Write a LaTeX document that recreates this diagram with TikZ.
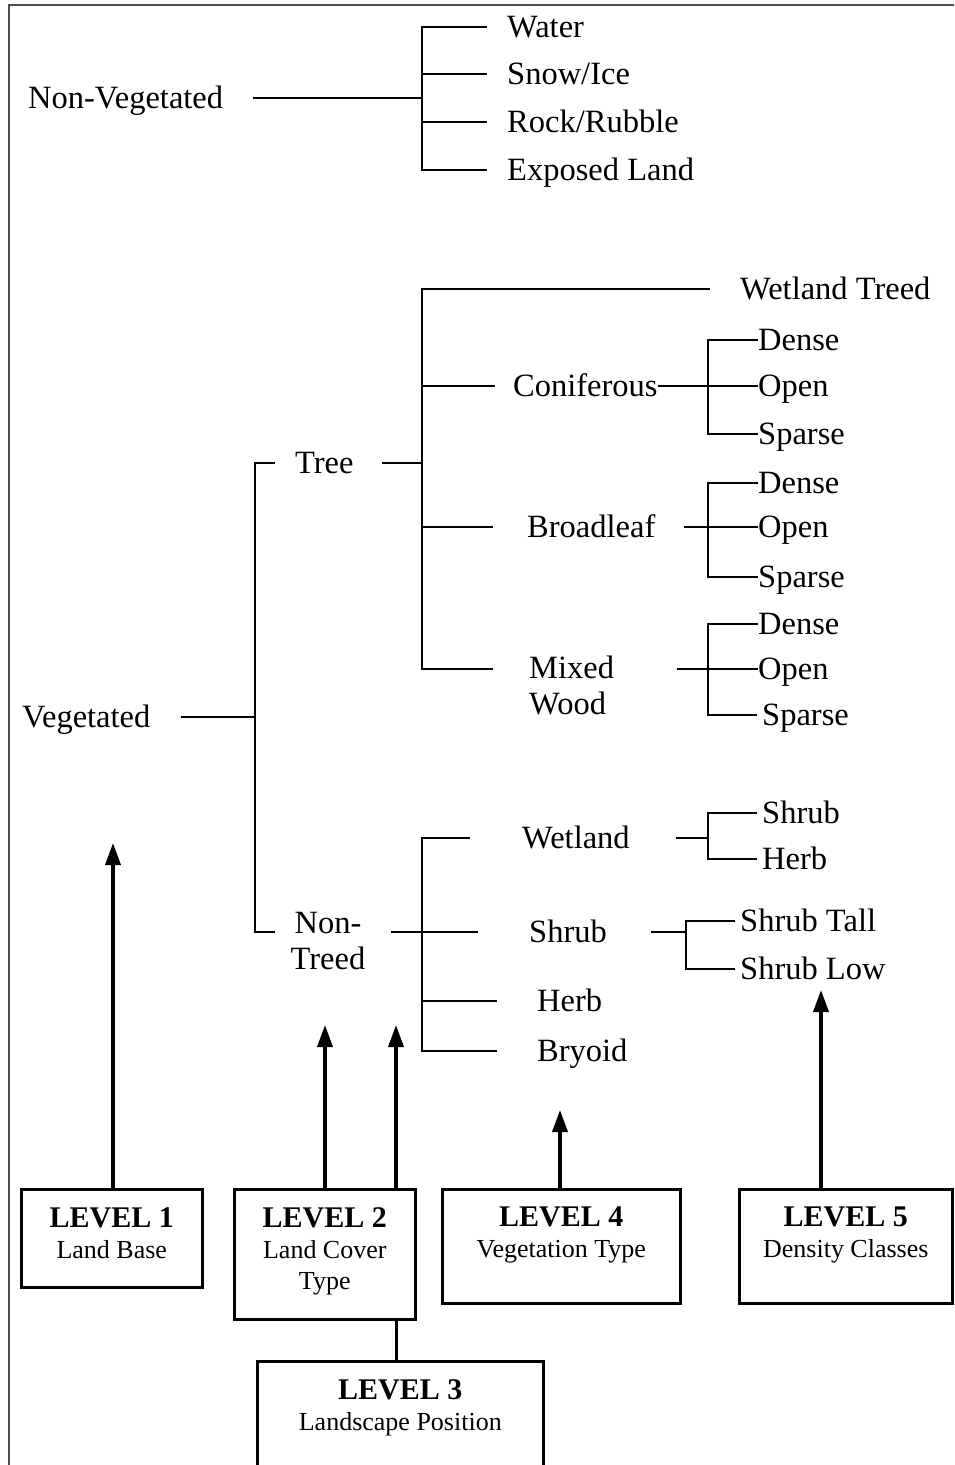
\documentclass[tikz,border=0pt]{standalone}
\usepackage{fontspec}
\setmainfont{Liberation Serif}
\usetikzlibrary{arrows.meta, positioning}

\begin{document}
\begin{tikzpicture}[x=1pt, y=-1pt,
    cls/.style={font=\fontsize{32.5}{36}\selectfont, text height=28pt, text depth=7pt, inner sep=0pt, anchor=west},
    cls2/.style={font=\fontsize{32.5}{36}\selectfont, inner sep=0pt},
    branch/.style={line width=2.2pt},
    lvlbox/.style={draw, line width=2.6pt, anchor=north west},
    lvltext/.style={font=\fontsize{26}{31}\selectfont, align=center, inner sep=0pt, anchor=north},
    uparrow/.style={line width=3.6pt, -{Triangle[width=15pt,length=22pt]}}]
  \useasboundingbox (0,0) rectangle (954,1465);

  % frame
  \draw[line width=1.2pt, black!70] (954,5) -- (9,5) -- (9,1465);

  % Non-vegetated
  \node[cls] (nonveg) at (28,98) {Non-Vegetated};
  \node[cls] (water) at (507,27) {Water};
  \node[cls] (snow) at (507,74) {Snow/Ice};
  \node[cls] (rock) at (507,122) {Rock/Rubble};
  \node[cls] (exposed) at (507,170) {Exposed Land};
  \coordinate (nvspine) at (422,98);
  \draw[branch] ([xshift=30pt]nonveg.east) -- (nvspine);
  \draw[branch] ([xshift=-20pt]water.west) -| (nvspine) |- ([xshift=-20pt]exposed.west);
  \foreach \c in {snow,rock}
    \draw[branch] (nvspine |- \c) -- ([xshift=-20pt]\c.west);

  % Vegetated
  \node[cls] (veg) at (22,717) {Vegetated};
  \node[cls] (tree) at (295,463) {Tree};
  \node[cls2, align=center] (nontreed) at (328,941) {Non-\\Treed};
  \coordinate (vspine) at (255,717);
  \draw[branch] ([xshift=30pt]veg.east) -- (vspine);
  \draw[branch] ([xshift=-20pt]tree.west) -| (vspine) |- ([shift={(-15pt,9pt)}]nontreed.west);

  % Tree
  \node[cls] (wettreed) at (740,289) {Wetland Treed};
  \node[cls] (conif) at (513,386) {Coniferous};
  \node[cls] (broad) at (527,527) {Broadleaf};
  \node[cls2, align=left, anchor=west] (mixed) at (529,685) {Mixed\\Wood};
  \coordinate (tspine) at (422,463);
  \draw[branch] ([xshift=28pt]tree.east) -- (tspine);
  \draw[branch] ([xshift=-30pt]wettreed.west) -| (tspine) |- ([shift={(-36pt,16pt)}]mixed.west);
  \draw[branch] (tspine |- conif) -- ([xshift=-18pt]conif.west);
  \draw[branch] (tspine |- broad) -- ([xshift=-34pt]broad.west);

  % density classes
  \node[cls] (dense1) at (758,340) {Dense};
  \node[cls] (open1) at (758,386) {Open};
  \node[cls] (sparse1) at (758,434) {Sparse};
  \node[cls] (dense2) at (758,483) {Dense};
  \node[cls] (open2) at (758,527) {Open};
  \node[cls] (sparse2) at (758,577) {Sparse};
  \node[cls] (dense3) at (758,624) {Dense};
  \node[cls] (open3) at (758,669) {Open};
  \node[cls] (sparse3) at (762,715) {Sparse};
  \coordinate (cspine) at (708,386);
  \coordinate (bspine) at (708,527);
  \coordinate (mspine) at (708,669);
  \draw[branch] (conif.east) -- (cspine);
  \draw[branch] ([xshift=28pt]broad.east) -- (bspine);
  \draw[branch] ([shift={(63pt,16pt)}]mixed.east) -- (mspine);
  \draw[branch] (dense1.west) -| (cspine) |- (sparse1.west);
  \draw[branch] (dense2.west) -| (bspine) |- (sparse2.west);
  \draw[branch] (dense3.west) -| (mspine) |- ([xshift=-5pt]sparse3.west);
  \draw[branch] (cspine) -- (open1.west);
  \draw[branch] (bspine) -- (open2.west);
  \draw[branch] (mspine) -- (open3.west);

  % Non-treed
  \node[cls] (wetland) at (522,838) {Wetland};
  \node[cls] (shrub) at (529,932) {Shrub};
  \node[cls] (herb) at (537,1001) {Herb};
  \node[cls] (bryoid) at (537,1051) {Bryoid};
  \coordinate (ntspine) at (422,932);
  \draw[branch] ([shift={(25pt,9pt)}]nontreed.east) -- (ntspine) -- ([xshift=-51pt]shrub.west);
  \draw[branch] ([xshift=-52pt]wetland.west) -| (ntspine) |- ([xshift=-40pt]bryoid.west);
  \draw[branch] (ntspine |- herb) -- ([xshift=-40pt]herb.west);

  \node[cls] (wshrub) at (762,813) {Shrub};
  \node[cls] (wherb) at (762,859) {Herb};
  \node[cls] (stall) at (740,921) {Shrub Tall};
  \node[cls] (slow) at (740,969) {Shrub Low};
  \coordinate (wspine) at (708,838);
  \coordinate (sspine) at (686,932);
  \draw[branch] ([xshift=46pt]wetland.east) -- (wspine);
  \draw[branch] ([xshift=-5pt]wshrub.west) -| (wspine) |- ([xshift=-5pt]wherb.west);
  \draw[branch] ([xshift=44pt]shrub.east) -- (sspine);
  \draw[branch] ([xshift=-5pt]stall.west) -| (sspine) |- ([xshift=-5pt]slow.west);

  % Level boxes
  \node[lvlbox, minimum width=181pt, minimum height=98pt] (lev1) at (20,1188) {};
  \node[lvlbox, minimum width=181pt, minimum height=130pt] (lev2) at (233,1188) {};
  \node[lvlbox, minimum width=286pt, minimum height=130pt] (lev3) at (256,1360) {};
  \node[lvlbox, minimum width=238pt, minimum height=114pt] (lev4) at (441,1188) {};
  \node[lvlbox, minimum width=213pt, minimum height=114pt] (lev5) at (738,1188) {};
  \node[lvltext] (lev1t) at ([yshift=-19pt]lev1.north) {{\fontsize{30}{31}\selectfont\bfseries LEVEL 1}\\Land Base};
  \node[lvltext] (lev2t) at ([yshift=-19pt]lev2.north) {{\fontsize{30}{31}\selectfont\bfseries LEVEL 2}\\Land Cover\\Type};
  \node[lvltext] (lev3t) at ([yshift=-19pt]lev3.north) {{\fontsize{30}{31}\selectfont\bfseries LEVEL 3}\\Landscape Position};
  \node[lvltext] (lev4t) at ([yshift=-19pt]lev4.north) {{\fontsize{30}{31}\selectfont\bfseries LEVEL 4}\\Vegetation Type};
  \node[lvltext] (lev5t) at ([yshift=-19pt]lev5.north) {{\fontsize{30}{31}\selectfont\bfseries LEVEL 5}\\Density Classes};

  % arrows
  \coordinate (tip1) at (113,843);
  \coordinate (tip2a) at (325,1025);
  \coordinate (tip2b) at (396,1025);
  \coordinate (tip4) at (560,1110);
  \coordinate (tip5) at (821,990);
  \draw[uparrow] (lev1.north -| tip1) -- (tip1);
  \draw[uparrow] (lev2.north -| tip2a) -- (tip2a);
  \draw[uparrow] (lev2.north -| tip2b) -- (tip2b);
  \draw[uparrow] (lev4.north -| tip4) -- (tip4);
  \draw[uparrow] (lev5.north -| tip5) -- (tip5);
  \draw[line width=3pt] (lev2.south -| tip2b) -- (lev3.north -| tip2b);
\end{tikzpicture}
\end{document}
